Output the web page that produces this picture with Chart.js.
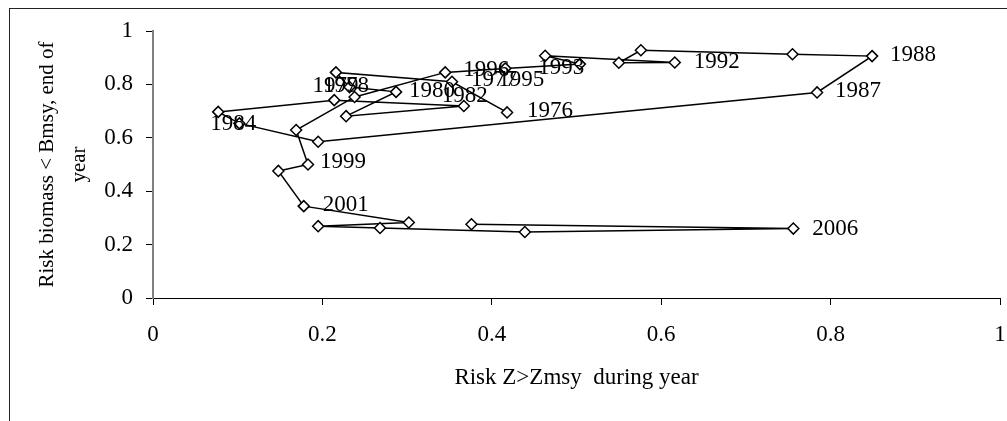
<!DOCTYPE html>
<html><head><meta charset="utf-8">
<script src="https://cdn.jsdelivr.net/npm/chart.js@4.4.0/dist/chart.umd.min.js"></script>
<style>
html,body{margin:0;padding:0;background:#fff;}
#wrap{position:relative;width:1007px;height:421px;overflow:hidden;background:#fff;}
#frame{position:absolute;left:9px;top:8px;width:1100px;height:600px;border:1px solid #222;box-sizing:border-box;pointer-events:none;}
canvas{position:absolute;left:0;top:0;}
</style></head><body>
<div id="wrap"><canvas id="c" width="1007" height="421"></canvas><div id="frame"></div></div>
<script>
// ---- data ----
const years = [1976,1977,1978,1979,1980,1981,1982,1983,1984,1985,1986,1987,1988,1989,1990,1991,1992,1993,1994,1995,1996,1997,1998,1999,2000,2001,2002,2003,2004,2005,2006,2007];
const riskZ = [0.418,0.353,0.216,0.232,0.287,0.228,0.367,0.214,0.077,0.102,0.195,0.784,0.849,0.755,0.576,0.550,0.616,0.463,0.504,0.416,0.345,0.238,0.169,0.183,0.148,0.178,0.302,0.195,0.268,0.439,0.756,0.376];
const riskB = [0.695,0.810,0.845,0.790,0.772,0.681,0.719,0.741,0.697,0.654,0.585,0.770,0.906,0.913,0.928,0.881,0.882,0.907,0.876,0.860,0.845,0.753,0.629,0.500,0.476,0.344,0.283,0.269,0.262,0.247,0.260,0.276];
const labelYears = [1976,1977,1978,1979,1980,1982,1984,1987,1988,1992,1993,1995,1996,1999,2001,2006];
const xTickValues = [0,0.2,0.4,0.6,0.8,1];
const yTickValues = [0,0.2,0.4,0.6,0.8,1];
const xTitle = 'Risk Z>Zmsy  during year';
const yTitle = ['Risk biomass < Bmsy, end of','year'];

// ---- label placement (style) ----
const labelOffset = {
  1976:[20,-1],1977:[19,-2],1978:[-13,14],1979:[-37,-1],1980:[13,-1],1982:[-22,-10],1984:[-8,12],
  1987:[18,-1],1988:[18,-1],1992:[19,-1],1993:[-7,12],1995:[-7,12],1996:[18,-2],
  1999:[12,-3],2001:[19,-1],2006:[19,0]
};
const FONT = "'Liberation Serif','Times New Roman',serif";
const fmt = v => String(Math.round(v*10)/10);

const points = riskZ.map((x,i)=>({x:x,y:riskB[i]}));

const labelPlugin = {
  id:'yearLabels',
  afterDatasetsDraw(chart){
    const ctx = chart.ctx;
    const meta = chart.getDatasetMeta(0);
    ctx.save();
    ctx.font = '23px ' + FONT;
    ctx.fillStyle = '#000';
    ctx.textAlign = 'left';
    ctx.textBaseline = 'middle';
    labelYears.forEach(yr=>{
      const i = years.indexOf(yr);
      if(i<0) return;
      const el = meta.data[i];
      const off = labelOffset[yr] || [18,0];
      ctx.fillText(String(yr), el.x+off[0], el.y+off[1]);
    });
    ctx.restore();
  }
};

new Chart(document.getElementById('c'),{
  type:'scatter',
  data:{datasets:[{
    data:points,
    showLine:true,
    borderColor:'#000',
    borderWidth:1.5,
    pointStyle:'rectRot',
    pointRadius:5.5,
    pointBackgroundColor:'#fff',
    pointBorderColor:'#000',
    pointBorderWidth:1.5,
    tension:0
  }]},
  options:{
    responsive:false,
    animation:false,
    layout:{padding:{left:0,top:31,right:4,bottom:0}},
    plugins:{legend:{display:false},tooltip:{enabled:false}},
    scales:{
      x:{
        type:'linear',min:0,max:1,
        afterBuildTicks(s){s.ticks = xTickValues.map(v=>({value:v}));},
        afterFit(s){s.height = 123; s.paddingLeft=0; s.paddingRight=0;},
        ticks:{font:{family:FONT,size:23},color:'#000',padding:16,maxRotation:0,autoSkip:false,callback:fmt},
        grid:{display:true,drawOnChartArea:false,drawTicks:true,tickLength:7,color:'#000',lineWidth:1},
        border:{display:true,color:'#000',width:1},
        title:{display:true,text:xTitle,font:{family:FONT,size:23},color:'#000',padding:{top:0,bottom:29}}
      },
      y:{
        type:'linear',min:0,max:1,
        afterBuildTicks(s){s.ticks = yTickValues.map(v=>({value:v}));},
        afterFit(s){s.width = 153;},
        ticks:{font:{family:FONT,size:23},color:'#000',padding:13,autoSkip:false,callback:fmt},
        grid:{display:true,drawOnChartArea:false,drawTicks:true,tickLength:7,color:'#000',lineWidth:1},
        border:{display:true,color:'#808080',width:2},
        title:{display:true,text:yTitle,font:{family:FONT,size:21,lineHeight:1.52},color:'#000',padding:{top:32,bottom:0}}
      }
    }
  },
  plugins:[labelPlugin]
});
</script>
</body></html>
